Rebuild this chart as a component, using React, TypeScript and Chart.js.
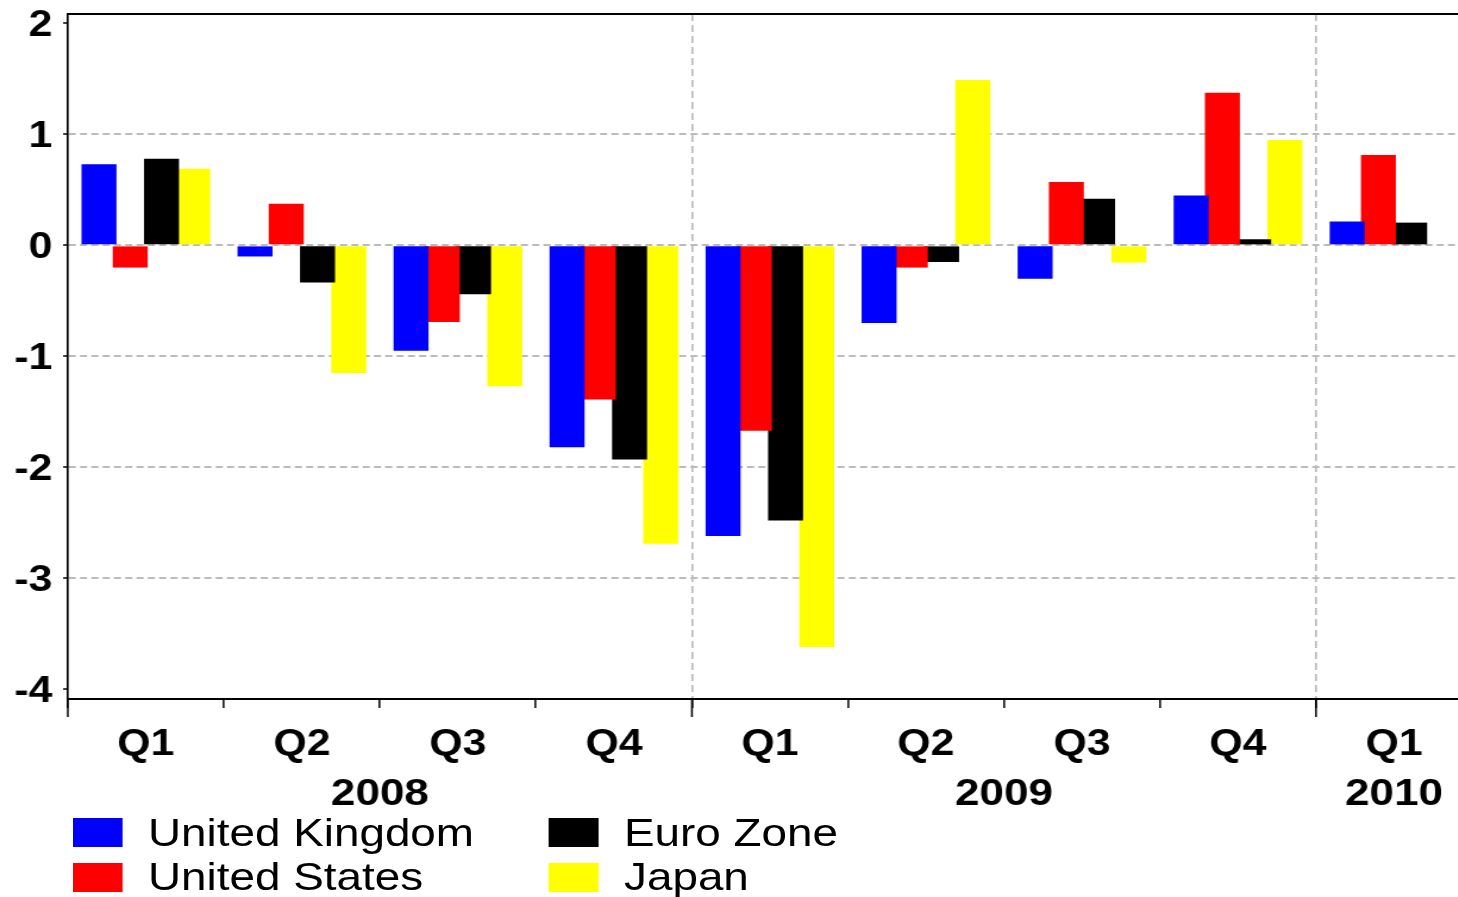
import { useEffect, useRef } from 'react';
import { Chart, registerables } from 'chart.js';

Chart.register(...registerables);

const categories = ['Q1', 'Q2', 'Q3', 'Q4', 'Q1', 'Q2', 'Q3', 'Q4', 'Q1'];
const yearLabels = ['2008', '2009', '2010'];
const yearFirstIndex = [0, 4, 8];
const yearLastIndex = [3, 7, 8];
const yTickValues = [-4, -3, -2, -1, 0, 1, 2];

const ukValues = [0.73, -0.10, -0.95, -1.82, -2.62, -0.70, -0.30, 0.45, 0.215];
const usValues = [-0.20, 0.375, -0.69, -1.39, -1.67, -0.20, 0.57, 1.375, 0.815];
const ezValues = [0.78, -0.335, -0.44, -1.93, -2.48, -0.15, 0.42, 0.055, 0.205];
const jpValues = [0.69, -1.15, -1.27, -2.69, -3.62, 1.49, -0.155, 0.95, null];

const seriesNames = ['United Kingdom', 'United States', 'Euro Zone', 'Japan'];
const seriesColors = ['#0000ff', '#ff0000', '#000000', '#ffff00'];
const seriesValues = [ukValues, usValues, ezValues, jpValues];

const S = 1.19; // horizontal stretch of the original picture
const W = 1237;
const H = 897;
const FONT = '"Liberation Sans", Arial, sans-serif';
const GRID = '#bbbbbb';
const CLEAR = 'rgba(0,0,0,0)';

const extras = {
  id: 'extras',
  afterDraw(chart: any) {
    const { ctx, chartArea } = chart;
    const x = chart.scales.x;
    ctx.save();
    ctx.strokeStyle = '#000';
    ctx.lineWidth = 2;
    ctx.beginPath();
    ctx.moveTo(chartArea.left, chartArea.top);
    ctx.lineTo(chartArea.right, chartArea.top);
    ctx.stroke();
    ctx.lineWidth = 1.5;
    yearFirstIndex.forEach((i) => {
      const px = x.getPixelForValue(i - 0.5);
      ctx.beginPath();
      ctx.moveTo(px, chartArea.bottom);
      ctx.lineTo(px, chartArea.bottom + 18);
      ctx.stroke();
    });
    ctx.fillStyle = '#000';
    ctx.font = `bold 37px ${FONT}`;
    ctx.textAlign = 'center';
    ctx.textBaseline = 'alphabetic';
    yearLabels.forEach((lab, k) => {
      const cx = (x.getPixelForValue(yearFirstIndex[k]) + x.getPixelForValue(yearLastIndex[k])) / 2;
      ctx.fillText(lab, cx, 805);
    });
    ctx.restore();
  },
};

export default function App() {
  const ref = useRef<HTMLCanvasElement>(null);

  useEffect(() => {
    const chart = new Chart(ref.current as HTMLCanvasElement, {
      type: 'bar',
      data: {
        labels: categories,
        datasets: seriesNames.map((name, i) => ({
          label: name,
          data: seriesValues[i] as any,
          backgroundColor: seriesColors[i],
          borderWidth: 0,
          categoryPercentage: 0.801,
          barPercentage: 1.12,
        })),
      },
      options: {
        responsive: false,
        animation: false,
        layout: { padding: { top: 14, left: 0, right: 0, bottom: 0 } },
        plugins: { legend: { display: false }, tooltip: { enabled: false } },
        scales: {
          x: {
            offset: true,
            grid: {
              offset: true,
              color: (c: any) => (c.index === 4 || c.index === 8 ? GRID : CLEAR),
              lineWidth: 1.7,
              tickColor: '#000',
              tickWidth: 1.5,
              tickLength: 9,
            },
            border: { display: true, color: '#000', width: 2, dash: [7, 4] },
            ticks: {
              color: '#000',
              font: { family: FONT, size: 36, weight: 'bold' },
              padding: 15,
              maxRotation: 0,
              autoSkip: false,
            },
            afterFit: (s: any) => {
              s.height = H - 699;
              s.paddingLeft = 0;
              s.paddingRight = 0;
            },
          },
          y: {
            min: -4.088,
            max: 2.085,
            afterBuildTicks: (s: any) => {
              s.ticks = yTickValues.map((v) => ({ value: v }));
            },
            grid: {
              color: (c: any) => (c.tick && (c.tick.value === 2 || c.tick.value === -4) ? CLEAR : GRID),
              lineWidth: 2,
              tickColor: '#000',
              tickWidth: 1.5,
              tickLength: 4,
            },
            border: { display: true, color: '#000', width: 1.7, dash: [6, 3.5] },
            ticks: {
              color: '#000',
              font: { family: FONT, size: 36, weight: 'bold' },
              padding: 9,
              labelOffset: 2.5,
            },
            afterFit: (s: any) => {
              s.width = 57;
              s.paddingTop = 0;
              s.paddingBottom = 0;
            },
          },
        },
      } as any,
      plugins: [extras],
    });
    return () => chart.destroy();
  }, []);

  const boxLeft = [60.5, 460.5];
  const textLeft = [124.4, 524.4];
  const boxTop = [818, 863];
  const textTop = [814, 858];

  return (
    <div
      style={{
        position: 'fixed',
        left: 0,
        top: 0,
        width: W,
        height: H,
        transform: `scaleX(${S})`,
        transformOrigin: '0 0',
        background: '#fff',
        overflow: 'visible',
      }}
    >
      <canvas ref={ref} width={W} height={H} style={{ display: 'block', width: W, height: H }} />
      {seriesNames.map((name, i) => {
        const col = Math.floor(i / 2);
        const row = i % 2;
        return (
          <div key={name}>
            <div
              style={{
                position: 'absolute',
                left: boxLeft[col],
                top: boxTop[row],
                width: 42,
                height: 29,
                background: seriesColors[i],
              }}
            />
            <div
              style={{
                position: 'absolute',
                left: textLeft[col],
                top: textTop[row],
                fontFamily: FONT,
                fontSize: 38.5,
                lineHeight: '38px',
                color: '#000',
                whiteSpace: 'nowrap',
              }}
            >
              {name}
            </div>
          </div>
        );
      })}
    </div>
  );
}
